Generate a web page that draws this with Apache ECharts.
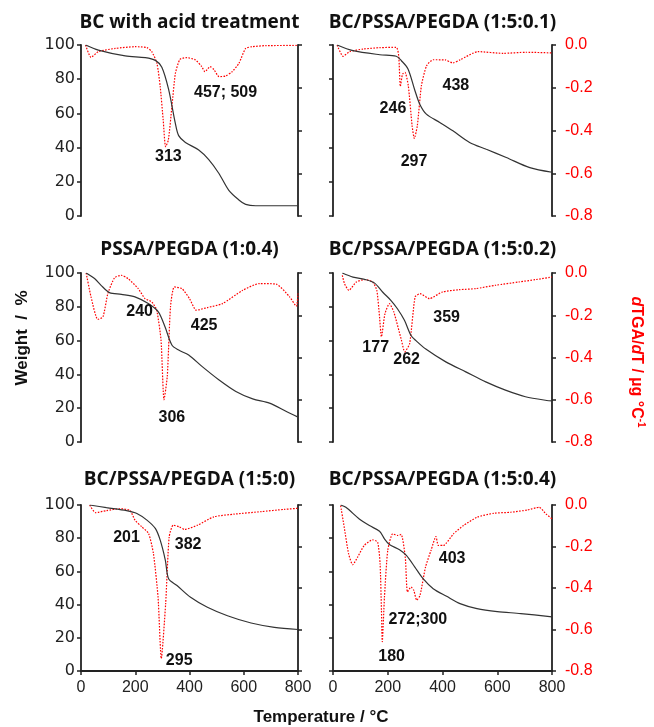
<!DOCTYPE html>
<html>
<head>
<meta charset="UTF-8">
<title>TGA / dTGA</title>
<script src="https://cdn.jsdelivr.net/npm/echarts@6/dist/echarts.min.js"></script>
<style>
  body { margin: 0; background: #fff; }
  #chart { width: 654px; height: 727px; }
</style>
</head>
<body>
<div id="chart"></div>
<script>
// panel titles, in reading order (row by row)
var panelTitles = ['BC with acid treatment', 'BC/PSSA/PEGDA (1:5:0.1)',
                   'PSSA/PEGDA (1:0.4)', 'BC/PSSA/PEGDA (1:5:0.2)',
                   'BC/PSSA/PEGDA (1:5:0)', 'BC/PSSA/PEGDA (1:5:0.4)'];

// [temperature °C, weight %]
var acidWeight = [[17,100],[64,97],[163,93.6],[237,92.6],[274,91],[298,87],[323,74],[348,54],[360,47],[385,43],[434,38.6],[471,33],[508,25],[545,15],[582,9.4],[607,6.8],[644,6],[800,6]];
// [temperature °C, dTGA/dT µg/°C]
var acidDtg = [[17,0],[37,-0.058],[64,-0.031],[126,-0.016],[200,-0.008],[243,-0.012],[261,-0.031],[280,-0.086],[292,-0.195],[303,-0.351],[312,-0.476],[322,-0.445],[335,-0.29],[348,-0.133],[365,-0.067],[391,-0.059],[422,-0.07],[445,-0.101],[457,-0.125],[476,-0.101],[490,-0.115],[509,-0.148],[533,-0.145],[557,-0.125],[582,-0.086],[607,-0.016],[631,-0.008],[681,-0.003],[800,-0.002]];
var acidPeaks = [[322,34.5,'313'],[533,72,'457; 509']];

var r01Weight = [[15,100],[73,96.7],[171,94.3],[231,93.4],[250,90.8],[274,86],[298,74],[317,65.4],[341,59.6],[390,54.7],[438,49.8],[499,43],[560,39],[633,34.2],[719,28.3],[800,25.6]];
var r01Dtg = [[15,0],[37,-0.053],[61,-0.031],[110,-0.019],[171,-0.0125],[231,-0.011],[240,-0.05],[246,-0.194],[254,-0.136],[263,-0.128],[275,-0.19],[289,-0.378],[297,-0.4375],[308,-0.378],[323,-0.19],[342,-0.097],[366,-0.069],[410,-0.07],[438,-0.084],[465,-0.069],[530,-0.031],[621,-0.039],[706,-0.034],[800,-0.037]];
var r01Peaks = [[219,62.6,'246'],[296,32,'297'],[449,76,'438']];

var pegWeight = [[19,100],[50,96.7],[74,92.7],[105,88.4],[149,87.4],[199,85.9],[248,81.9],[285,77],[310,68],[335,57.4],[360,54.4],[397,51.5],[447,44.6],[509,36.7],[571,29.9],[633,25.5],[695,23],[757,18],[800,14.7]];
var pegDtg = [[19,0],[37,-0.113],[62,-0.22],[81,-0.2075],[99,-0.0975],[124,-0.022],[149,-0.011],[174,-0.027],[211,-0.074],[236,-0.121],[261,-0.137],[279,-0.176],[295,-0.318],[306,-0.6],[318,-0.49],[330,-0.16],[344,-0.066],[372,-0.074],[400,-0.121],[425,-0.176],[465,-0.164],[521,-0.145],[596,-0.082],[658,-0.05],[720,-0.053],[769,-0.113],[794,-0.157],[800,-0.097]];
var pegPeaks = [[216,77,'240'],[335,14.2,'306'],[454,68.6,'425']];

var r02Weight = [[34,100],[73,97.6],[121,96],[152,94],[182,88.6],[212,83.7],[236,78.7],[261,72],[285,63],[303,60],[339,55],[412,47.4],[485,41.5],[558,35.6],[630,30.7],[703,26.8],[788,24.4],[800,24.3]];
var r02Dtg = [[34,-0.011],[42,-0.05],[58,-0.082],[85,-0.043],[115,-0.031],[145,-0.043],[160,-0.082],[170,-0.208],[177,-0.302],[190,-0.192],[206,-0.145],[222,-0.184],[250,-0.318],[262,-0.373],[280,-0.334],[300,-0.113],[318,-0.098],[352,-0.121],[400,-0.0898],[461,-0.079],[521,-0.074],[594,-0.058],[679,-0.0425],[739,-0.0315],[800,-0.019]];
var r02Peaks = [[156,56,'177'],[269,48.5,'262'],[415,73.4,'359']];

var r00Weight = [[32,100],[94,98.4],[168,96.6],[206,94.9],[243,90.9],[274,85.9],[292,78.8],[311,66.7],[323,55.6],[354,51.5],[404,44.4],[466,38.4],[540,33.3],[627,28.9],[713,26.3],[800,25]];
var r00Dtg = [[32,0],[54,-0.037],[94,-0.027],[144,-0.018],[181,-0.027],[199,-0.073],[224,-0.105],[249,-0.137],[267,-0.234],[284,-0.444],[296,-0.74],[312,-0.477],[325,-0.154],[340,-0.097],[362,-0.105],[382,-0.118],[430,-0.097],[490,-0.057],[565,-0.044],[664,-0.032],[750,-0.021],[800,-0.016]];
var r00Peaks = [[168,80.6,'201'],[362,6,'295'],[395,76.4,'382']];

var r04Weight = [[28,100],[47,98.6],[96,91.6],[133,87.6],[170,84.2],[188,79.6],[206,76.2],[243,73],[268,69.6],[299,62.6],[329,55.6],[366,49.6],[415,45],[464,40.6],[526,37.6],[600,35.8],[686,34.6],[800,32.6]];
var r04Dtg = [[28,-0.003],[41,-0.107],[57,-0.235],[72,-0.288],[90,-0.251],[114,-0.195],[145,-0.168],[163,-0.179],[172,-0.283],[177,-0.507],[180,-0.659],[188,-0.443],[200,-0.219],[218,-0.139],[237,-0.147],[249,-0.142],[264,-0.251],[272,-0.419],[285,-0.395],[295,-0.411],[306,-0.459],[318,-0.435],[338,-0.299],[358,-0.219],[376,-0.152],[385,-0.195],[403,-0.195],[440,-0.139],[477,-0.099],[526,-0.059],[587,-0.04],[649,-0.035],[710,-0.024],[753,-0.011],[778,-0.043],[800,-0.067]];
var r04Peaks = [[214,8.4,'180'],[310,31,'272;300'],[435,68,'403']];

var weightSets = [acidWeight, r01Weight, pegWeight, r02Weight, r00Weight, r04Weight];
var dtgSets = [acidDtg, r01Dtg, pegDtg, r02Dtg, r00Dtg, r04Dtg];
var peakSets = [acidPeaks, r01Peaks, pegPeaks, r02Peaks, r00Peaks, r04Peaks];

var axisColor = '#222';
var cols = [{left: 81, width: 217}, {left: 333, width: 219}];
var rows = [{top: 45, height: 171, title: 23}, {top: 273, height: 169, title: 250}, {top: 505, height: 166, title: 480}];

var grids = [], xAxes = [], yAxes = [], series = [], graphics = [];

for (var i = 0; i < 6; i++) {
    var c = cols[i % 2];
    var r = rows[Math.floor(i / 2)];
    var isBottom = i >= 4;
    var isLeft = (i % 2) == 0;

    grids.push({left: c.left, top: r.top, width: c.width, height: r.height});

    xAxes.push({
        gridIndex: i, type: 'value', min: 0, max: 800, interval: 200,
        axisLine: {show: isBottom, onZero: false, lineStyle: {color: axisColor, width: 1.8}},
        axisTick: {show: isBottom, length: 4, lineStyle: {color: axisColor, width: 1.5}},
        axisLabel: {show: isBottom, margin: 9, color: '#222', fontFamily: 'Liberation Sans', fontSize: 16},
        splitLine: {show: false}
    });

    yAxes.push({
        gridIndex: i, type: 'value', position: 'left', min: 0, max: 100, interval: 20,
        axisLine: {show: true, onZero: false, lineStyle: {color: axisColor, width: 1.8}},
        axisTick: {show: true, length: 4, lineStyle: {color: axisColor, width: 1.5}},
        axisLabel: {show: isLeft, margin: 6, color: '#222', fontFamily: 'DejaVu Sans', fontSize: 16},
        splitLine: {show: false}
    });
    yAxes.push({
        gridIndex: i, type: 'value', position: 'right', min: -0.8, max: 0, interval: 0.2,
        axisLine: {show: true, onZero: false, lineStyle: {color: axisColor, width: 1.8}},
        axisTick: {show: true, length: 4, lineStyle: {color: axisColor, width: 1.5}},
        axisLabel: {show: !isLeft, margin: 13, color: '#ff0000', fontFamily: 'Liberation Sans', fontSize: 16,
            formatter: function (v) { return v.toFixed(1); }},
        splitLine: {show: false}
    });

    series.push({
        type: 'line', xAxisIndex: i, yAxisIndex: 2 * i, data: weightSets[i],
        showSymbol: false, smooth: 0.3, silent: true,
        lineStyle: {color: '#333', width: 1.2}, z: 3
    });
    series.push({
        type: 'line', xAxisIndex: i, yAxisIndex: 2 * i + 1, data: dtgSets[i],
        showSymbol: false, smooth: 0.2, silent: true,
        lineStyle: {color: '#ff0000', width: 1.2, type: [1.6, 1.4]}, z: 2
    });
    series.push({
        type: 'scatter', xAxisIndex: i, yAxisIndex: 2 * i, data: peakSets[i],
        symbolSize: 0.1, itemStyle: {color: '#111', opacity: 1}, silent: true, z: 5,
        label: {show: true, position: 'inside', color: '#111', opacity: 1, textBorderWidth: 0,
            fontFamily: 'Liberation Sans', fontWeight: 'bold', fontSize: 16,
            formatter: function (p) { return p.value[2]; }}
    });

    graphics.push({
        type: 'text', x: c.left + c.width / 2, y: r.title,
        style: {text: panelTitles[i], fill: '#111', font: 'bold 19px "Open Sans"',
            textAlign: 'center', textVerticalAlign: 'middle'}
    });
}

// shared axis names
graphics.push({
    type: 'text', x: 22, y: 338, rotation: Math.PI / 2,
    style: {text: 'Weight  /  %', fill: '#111', font: 'bold 17px "Liberation Sans"',
        textAlign: 'center', textVerticalAlign: 'middle'}
});
graphics.push({
    type: 'text', x: 636, y: 362, rotation: -Math.PI / 2,
    style: {
        text: '{i|d}{n|TGA/}{i|d}{n|T / µg °C}{s|-1}',
        textAlign: 'center', textVerticalAlign: 'middle',
        rich: {
            n: {fill: '#ff0000', font: 'bold 16px "Liberation Sans"', lineHeight: 20},
            i: {fill: '#ff0000', font: 'italic bold 16px "Liberation Sans"', lineHeight: 20},
            s: {fill: '#ff0000', font: 'bold 10px "Liberation Sans"', lineHeight: 10, verticalAlign: 'top'}
        }
    }
});
graphics.push({
    type: 'text', x: 321, y: 717,
    style: {text: 'Temperature / °C', fill: '#111', font: 'bold 17px "Liberation Sans"',
        textAlign: 'center', textVerticalAlign: 'middle'}
});

var chart = echarts.init(document.getElementById('chart'));
chart.setOption({
    animation: false,
    grid: grids,
    xAxis: xAxes,
    yAxis: yAxes,
    series: series,
    graphic: graphics
});
</script>
</body>
</html>
